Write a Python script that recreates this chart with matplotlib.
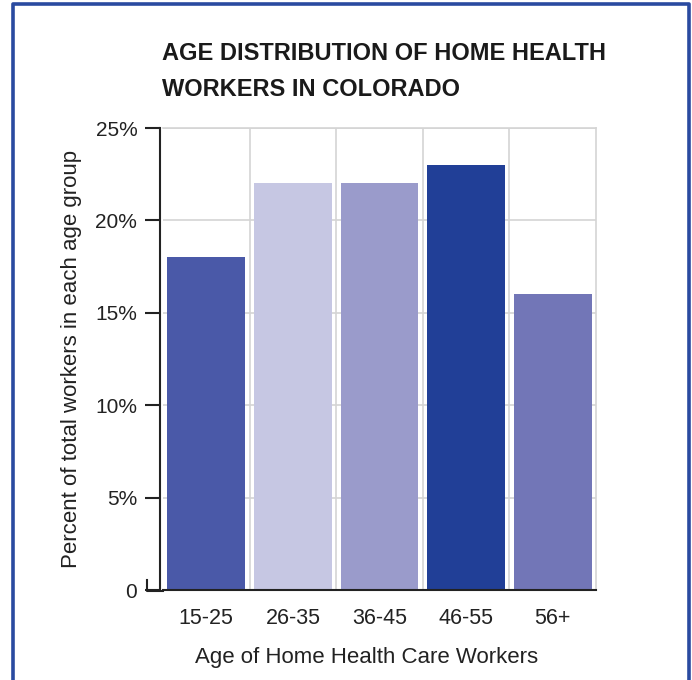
import matplotlib
matplotlib.use('Agg')
from matplotlib import pyplot as plt
from matplotlib.lines import Line2D

# data
age_groups = ['15-25', '26-35', '36-45', '46-55', '56+']
percents = [18, 22, 22, 23, 16]
bar_colors = ['#4a59a8', '#c6c7e3', '#9a9bcb', '#213f97', '#7276b7']
yticks = [0, 5, 10, 15, 20, 25]
ytick_labels = ['0', '5%', '10%', '15%', '20%', '25%']

plt.rcParams['font.family'] = ['Liberation Sans', 'DejaVu Sans']

W, H = 692, 680
fig = plt.figure(figsize=(W / 100, H / 100), dpi=100)

# blue frame around the whole graphic (open at the bottom)
fig.add_artist(Line2D([13 / W, 13 / W, 689 / W, 689 / W], [0, 1 - 4 / H, 1 - 4 / H, 0],
                      transform=fig.transFigure, color='#2a4aa0', lw=2.6))

ax = fig.add_axes([163 / W, 1 - 590 / H, (596 - 163) / W, (590 - 128) / H])
x = range(len(age_groups))
ax.bar(x, percents, width=0.9, color=bar_colors, zorder=3)

ax.set_xlim(-0.5, len(age_groups) - 0.5)
ax.set_ylim(0, 25)
ax.set_yticks(yticks)
ax.set_yticklabels(ytick_labels)
ax.set_xticks(list(x))
ax.set_xticklabels(age_groups)
ax.set_xticks([i + 0.5 for i in x][:-1], minor=True)

grid_c = '#d4d4d4'
ax.grid(axis='y', which='major', color=grid_c, lw=1.2, zorder=0)
ax.grid(axis='x', which='minor', color=grid_c, lw=1.2, zorder=0)
ax.grid(axis='x', which='major', visible=False)
for s in ['top', 'right']:
    ax.spines[s].set_color(grid_c)
    ax.spines[s].set_linewidth(1.2)
ax.spines['left'].set_position(('outward', 2.5))
ax.spines['left'].set_linewidth(1.5)
ax.spines['left'].set_color('#222222')
ax.spines['bottom'].set_linewidth(1.5)
ax.spines['bottom'].set_color('#222222')
ax.spines['bottom'].set_zorder(4)

ax.tick_params(axis='y', which='major', length=11, width=1.5, direction='out',
               labelsize=15, pad=5, colors='#222222')
ax.tick_params(axis='x', which='both', length=0, labelsize=15.5, pad=13, colors='#222222')

# extension of the baseline to the left with the small hook
fig.add_artist(Line2D([147 / W, 147 / W, 163 / W], [1 - 580 / H, 1 - 590.5 / H, 1 - 590.5 / H],
                      transform=fig.transFigure, color='#222222', lw=1.5))

ax.set_ylabel('Percent of total workers in each age group', fontsize=16, color='#222222')
ax.yaxis.set_label_coords(-(163 - 72) / (596 - 163), 0.5)
ax.set_xlabel('Age of Home Health Care Workers', fontsize=16, color='#222222')
ax.xaxis.set_label_coords((367 - 163) / (596 - 163), -(657 - 590) / (590 - 128))
ax.xaxis.label.set_va('center')
ax.yaxis.label.set_va('center')

fig.text(162 / W, 1 - 96 / H, 'AGE DISTRIBUTION OF HOME HEALTH\nWORKERS IN COLORADO',
         fontweight='bold', fontsize=17, color='#1a1a1a', va='baseline', linespacing=1.7)

fig.savefig('out.png', dpi=100)
